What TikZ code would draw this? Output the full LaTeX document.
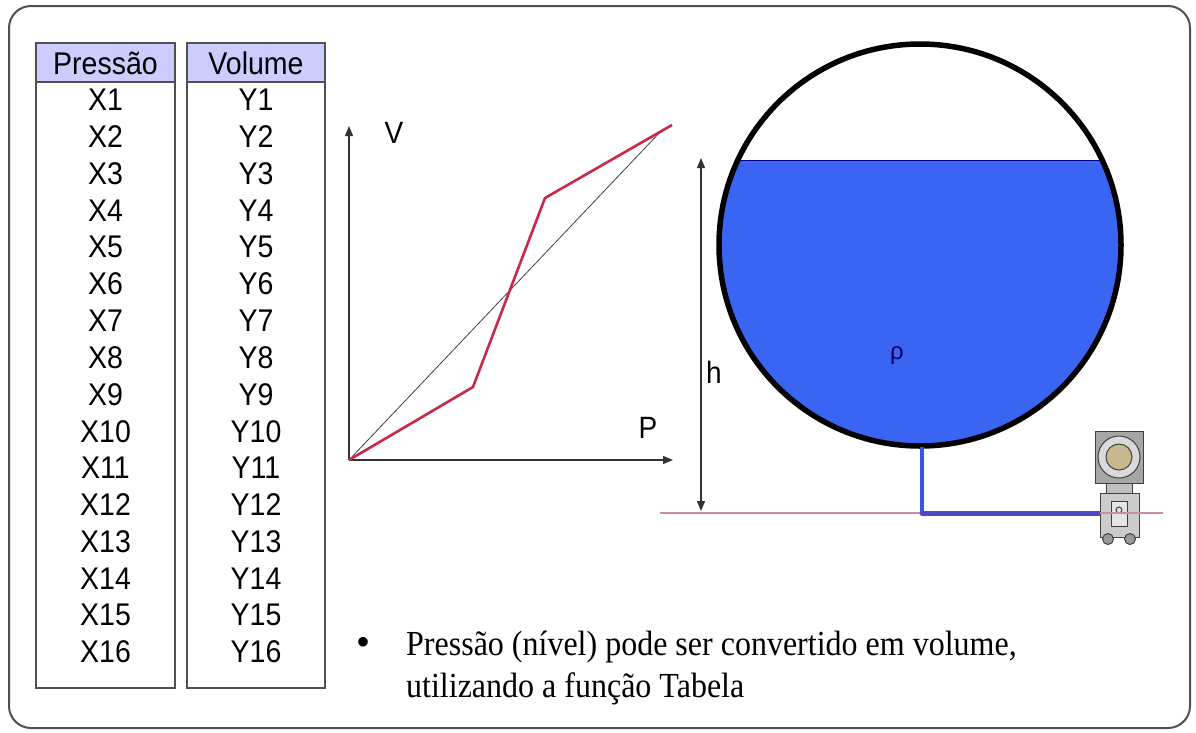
\documentclass[tikz,border=0pt]{standalone}
\usepackage{fontspec}
\usepackage{graphicx}
\setmainfont{Liberation Serif}
\setsansfont{Liberation Sans}
\usetikzlibrary{arrows.meta}
\definecolor{hdrfill}{HTML}{CCCCFF}
\definecolor{framegray}{HTML}{505050}
\definecolor{liquid}{HTML}{3A64F2}
\definecolor{curvered}{HTML}{C8284A}
\definecolor{pipeblue}{HTML}{3556E6}
\definecolor{pipeviolet}{HTML}{5046C8}
\definecolor{groundline}{HTML}{C8909C}
\definecolor{dialbeige}{HTML}{C8B890}
\newcommand{\talltext}[1]{\scalebox{1}[1.1]{#1}}
\begin{document}
\begin{tikzpicture}[x=1pt,y=-1pt,
  cell/.style={font=\sffamily\fontsize{28.5}{32}\selectfont, inner sep=0pt, anchor=center},
  hdrbox/.style={draw=framegray, line width=1.5pt, fill=hdrfill},
  colbox/.style={draw=framegray, line width=1.5pt, fill=white},
  axis/.style={draw=black!80, line width=1.3pt, -{Triangle[length=10pt,width=8pt]}},
  dim/.style={draw=black!80, line width=1.3pt, {Triangle[length=10pt,width=8pt]}-{Triangle[length=10pt,width=8pt]}},
  lbl/.style={font=\sffamily\fontsize{28}{32}\selectfont, inner sep=0pt},
  captext/.style={font=\fontsize{32}{42}\selectfont, inner sep=0pt, anchor=base west}]
\useasboundingbox (0,0) rectangle (1196,732);
\fill[white] (0,0) rectangle (1196,732);
% outer frame
\draw[framegray, line width=2pt, rounded corners=22pt] (9,6) rectangle (1190,728);

% lookup table: pressure column and volume column
\draw[colbox] (36,82) rectangle (175,688);
\draw[hdrbox] (36,43) rectangle (175,82);
\draw[colbox] (187,82) rectangle (325,688);
\draw[hdrbox] (187,43) rectangle (325,82);
\node[cell] (hP) at (105.5,63) {\talltext{Pressão}};
\node[cell] (hV) at (256,63) {\talltext{Volume}};
\foreach \i in {1,...,16}{
  \node[cell] (x\i) at (105.5,{100+36.8*(\i-1)}) {\talltext{X\i}};
  \node[cell] (y\i) at (256,{100+36.8*(\i-1)}) {\talltext{Y\i}};
}

% characteristic graph
\coordinate (o) at (349,460);
\coordinate (vtop) at (349,126);
\coordinate (pend) at (673,460);
\draw[axis] (o) -- (vtop);
\draw[axis] (o) -- (pend);
\node[lbl] (vl) at (394,133) {\talltext{V}};
\node[lbl] (pl) at (648,428) {\talltext{P}};
\coordinate (lin) at (663,129);
\draw[black!75, line width=0.8pt] (o) -- (lin);
\coordinate (c1) at (473,387);
\coordinate (c2) at (545,198);
\coordinate (c3) at (672,125);
\draw[curvered, line width=2.6pt, line join=round] (o) -- (c1) -- (c2) -- (c3);

% ground reference line
\coordinate (g0) at (660,513);
\coordinate (g1) at (1163,513);
\draw[groundline, line width=1.2pt] (g0) -- (g1);

% tank with liquid
\coordinate (tc) at (920,245);
\begin{scope}
  \clip (tc) circle[radius=201];
  \fill[liquid] (700,160) rectangle (1140,460);
  \draw[blue!50!black, line width=0.8pt] (700,160) -- (1140,160);
\end{scope}
\draw[black, line width=5.5pt] (tc) circle[radius=201];
\node[font=\sffamily\fontsize{24}{28}\selectfont, text=blue!40!black, inner sep=0pt] (rho) at (897,356) {ρ};

% level dimension
\coordinate (ht) at (701,158);
\coordinate (hb) at (701,511);
\draw[dim] (hb) -- (ht);
\node[lbl] (hl) at (714,372) {\talltext{h}};

% impulse line to transmitter
\coordinate (p0) at (922,447);
\coordinate (p1) at (922,513);
\coordinate (p2) at (1102,513);
\draw[pipeblue, line width=4pt] (p0) -- (p1);
\draw[pipeviolet, line width=5pt, line cap=round] (p1) -- (p2);

% pressure transmitter
\begin{scope}[draw=black!75, line width=1pt]
  \draw[fill=black!35] (1095,431) rectangle (1143,483);
  \draw[fill=black!15] (1119,457) circle[radius=21];
  \draw[fill=dialbeige] (1119,457) circle[radius=13];
  \draw[fill=black!25] (1106,483) rectangle (1132,493);
  \draw[fill=black!20] (1100,493) rectangle (1139,537);
  \draw[fill=black!10] (1111,501) rectangle (1127,526);
  \draw (1119,510) circle[radius=3];
  \draw[fill=black!40] (1108,539) circle[radius=5.5];
  \draw[fill=black!40] (1130,539) circle[radius=5.5];
\end{scope}
\draw[groundline, line width=1.2pt] (1100,513) -- (g1);

% caption
\node[font=\fontsize{40}{42}\selectfont, inner sep=0pt, anchor=base] (bul) at (363,655) {•};
\node[captext] (cap1) at (406,655) {\talltext{Pressão (nível) pode ser convertido em volume,}};
\node[captext] (cap2) at (406,697) {\talltext{utilizando a função Tabela}};
\end{tikzpicture}
\end{document}
